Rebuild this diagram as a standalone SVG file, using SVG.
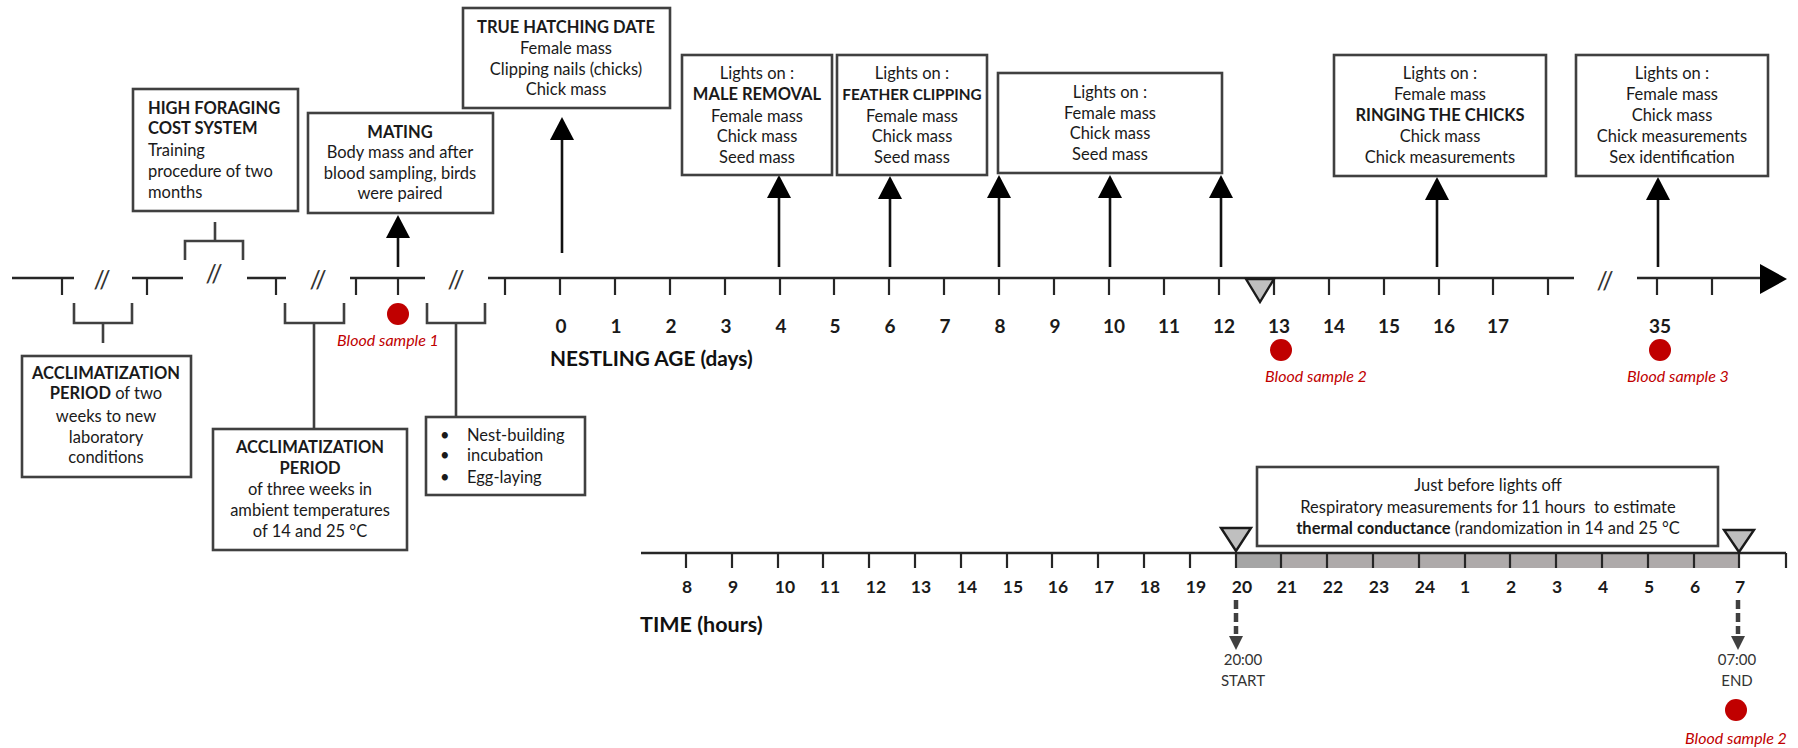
<svg xmlns="http://www.w3.org/2000/svg" width="1798" height="748" viewBox="0 0 1798 748">
<style>
text{font-family:Lato,"Liberation Sans",sans-serif;fill:#1a1a1a}
.box{fill:#fff;stroke:#404040;stroke-width:2.6}
.t{font-size:16.5px;text-anchor:middle}
.tl{font-size:16.5px}
.b{font-weight:bold}
.ax{stroke:#262626;stroke-width:2.6;fill:none}
.tk{stroke:#262626;stroke-width:2.2}
.num{font-size:19px;font-weight:bold;text-anchor:middle;fill:#111}
.hnum{font-size:17.5px;font-weight:bold;text-anchor:middle;fill:#111}
.ttl{font-size:20.8px;font-weight:bold;fill:#111}
.sl{font-size:25px;fill:#333;text-anchor:middle}
.brk{stroke:#404040;stroke-width:2.6;fill:none}
.stem{stroke:#111;stroke-width:2.6}
.head{fill:#000}
.tri{fill:#bfbfbf;stroke:#1a1a1a;stroke-width:2.4;stroke-linejoin:miter}
.dot{fill:#c00000}
.red{font-size:16px;font-style:italic;fill:#c00000;text-anchor:middle}
.dash{stroke:#404040;stroke-width:4.5;stroke-dasharray:9 4}
.dhead{fill:#404040}
.small{font-size:15px;fill:#333;text-anchor:middle}
</style>

<!-- upper timeline -->
<g id="upper-timeline">
  <path class="ax" d="M12 278H74 M132 278H183 M247 278H286 M350 278H425 M488 278H1574 M1637 278H1762"/>
  <path class="tk" d="M62 278V295 M147 278V295 M276 278V295 M356 278V295 M398 278V295
    M505 278V295 M560 278V295 M615 278V295 M670 278V295 M725 278V295 M780 278V295 M834 278V295 M889 278V295 M944 278V295 M999 278V295 M1054 278V295 M1109 278V295 M1164 278V295 M1219 278V295 M1274 278V295 M1329 278V295 M1384 278V295 M1439 278V295 M1493 278V295 M1548 278V295
    M1657 278V295 M1712 278V295"/>
  <polygon class="head" points="1760,264 1787,279 1760,294"/>
  <text class="sl" x="102" y="289">//</text>
  <text class="sl" x="214" y="283">//</text>
  <text class="sl" x="318" y="289">//</text>
  <text class="sl" x="456" y="289">//</text>
  <text class="sl" x="1605" y="290">//</text>
  <g class="num">
    <text x="561" y="333">0</text><text x="616" y="333">1</text><text x="671" y="333">2</text><text x="726" y="333">3</text><text x="781" y="333">4</text><text x="835" y="333">5</text><text x="890" y="333">6</text><text x="945" y="333">7</text><text x="1000" y="333">8</text><text x="1055" y="333">9</text><text x="1114" y="333">10</text><text x="1169" y="333">11</text><text x="1224" y="333">12</text><text x="1279" y="333">13</text><text x="1334" y="333">14</text><text x="1389" y="333">15</text><text x="1444" y="333">16</text><text x="1498" y="333">17</text><text x="1660" y="333">35</text>
  </g>
  <text class="ttl" x="550" y="366">NESTLING AGE (days)</text>
  <polygon class="tri" points="1246,279 1274,279 1260,302"/>
</g>

<!-- blood samples (upper) -->
<g id="blood1"><circle class="dot" cx="398" cy="314" r="11"/><text class="red" x="388" y="346">Blood sample 1</text></g>
<g id="blood2"><circle class="dot" cx="1281" cy="350" r="11"/><text class="red" x="1316" y="382">Blood sample 2</text></g>
<g id="blood3"><circle class="dot" cx="1660" cy="350" r="11"/><text class="red" x="1678" y="382">Blood sample 3</text></g>

<!-- connectors -->
<g id="connectors">
  <path class="brk" d="M185 260V241H243V260 M215 241V222"/>
  <path class="brk" d="M74 303V323H132V303 M103 323V343"/>
  <path class="brk" d="M285 303V323H344V303 M314 323V429"/>
  <path class="brk" d="M427 303V323H485V303 M456 323V417"/>
  <line class="stem" x1="398" y1="267" x2="398" y2="236"/><polygon class="head" points="398,215 386,238 410,238"/>
  <line class="stem" x1="562" y1="253" x2="562" y2="138"/><polygon class="head" points="562,117 550,140 574,140"/>
  <line class="stem" x1="779" y1="267" x2="779" y2="196"/><polygon class="head" points="779,175 767,198 791,198"/>
  <line class="stem" x1="890" y1="267" x2="890" y2="196"/><polygon class="head" points="890,176 878,199 902,199"/>
  <line class="stem" x1="999" y1="267" x2="999" y2="196"/><polygon class="head" points="999,175 987,198 1011,198"/>
  <line class="stem" x1="1110" y1="267" x2="1110" y2="196"/><polygon class="head" points="1110,175 1098,198 1122,198"/>
  <line class="stem" x1="1221" y1="267" x2="1221" y2="196"/><polygon class="head" points="1221,175 1209,198 1233,198"/>
  <line class="stem" x1="1437" y1="267" x2="1437" y2="198"/><polygon class="head" points="1437,177 1425,200 1449,200"/>
  <line class="stem" x1="1658" y1="267" x2="1658" y2="198"/><polygon class="head" points="1658,177 1646,200 1670,200"/>
  <line class="dash" x1="1236" y1="600" x2="1236" y2="634"/><polygon class="dhead" points="1229,636 1243,636 1236,650"/>
  <line class="dash" x1="1738" y1="600" x2="1738" y2="634"/><polygon class="dhead" points="1731,636 1745,636 1738,650"/>
</g>

<!-- nodes -->
<g id="high-foraging">
  <rect class="box" x="133" y="89" width="165" height="122"/>
  <text class="tl" x="148"><tspan class="b" x="148" y="114">HIGH FORAGING</tspan><tspan class="b" x="148" y="134">COST SYSTEM</tspan><tspan x="148" y="156">Training</tspan><tspan x="148" y="177">procedure of two</tspan><tspan x="148" y="198">months</tspan></text>
</g>
<g id="mating">
  <rect class="box" x="308" y="113" width="185" height="100"/>
  <text class="t"><tspan class="b" x="400" y="138">MATING</tspan><tspan x="400" y="158">Body mass and after</tspan><tspan x="400" y="179">blood sampling, birds</tspan><tspan x="400" y="199">were paired</tspan></text>
</g>
<g id="hatching">
  <rect class="box" x="463" y="8" width="207" height="100"/>
  <text class="t"><tspan class="b" x="566" y="33">TRUE HATCHING DATE</tspan><tspan x="566" y="54">Female mass</tspan><tspan x="566" y="75">Clipping nails (chicks)</tspan><tspan x="566" y="95">Chick mass</tspan></text>
</g>
<g id="male-removal">
  <rect class="box" x="682" y="55" width="150" height="120"/>
  <text class="t"><tspan x="757" y="79">Lights on :</tspan><tspan class="b" x="757" y="100">MALE REMOVAL</tspan><tspan x="757" y="122">Female mass</tspan><tspan x="757" y="142">Chick mass</tspan><tspan x="757" y="163">Seed mass</tspan></text>
</g>
<g id="feather-clipping">
  <rect class="box" x="837" y="55" width="150" height="120"/>
  <text class="t"><tspan x="912" y="79">Lights on :</tspan><tspan class="b" x="912" y="100" style="font-size:15.3px">FEATHER CLIPPING</tspan><tspan x="912" y="122">Female mass</tspan><tspan x="912" y="142">Chick mass</tspan><tspan x="912" y="163">Seed mass</tspan></text>
</g>
<g id="lights-on">
  <rect class="box" x="998" y="73" width="224" height="100"/>
  <text class="t"><tspan x="1110" y="98">Lights on :</tspan><tspan x="1110" y="119">Female mass</tspan><tspan x="1110" y="139">Chick mass</tspan><tspan x="1110" y="160">Seed mass</tspan></text>
</g>
<g id="ringing">
  <rect class="box" x="1334" y="55" width="212" height="121"/>
  <text class="t"><tspan x="1440" y="79">Lights on :</tspan><tspan x="1440" y="100">Female mass</tspan><tspan class="b" x="1440" y="121">RINGING THE CHICKS</tspan><tspan x="1440" y="142">Chick mass</tspan><tspan x="1440" y="163">Chick measurements</tspan></text>
</g>
<g id="sex-id">
  <rect class="box" x="1576" y="55" width="192" height="121"/>
  <text class="t"><tspan x="1672" y="79">Lights on :</tspan><tspan x="1672" y="100">Female mass</tspan><tspan x="1672" y="121">Chick mass</tspan><tspan x="1672" y="142">Chick measurements</tspan><tspan x="1672" y="163">Sex identification</tspan></text>
</g>
<g id="acclim-1">
  <rect class="box" x="22" y="356" width="169" height="121"/>
  <text class="t"><tspan class="b" x="106" y="379">ACCLIMATIZATION</tspan><tspan x="106" y="399"><tspan class="b">PERIOD</tspan> of two</tspan><tspan x="106" y="422">weeks to new</tspan><tspan x="106" y="443">laboratory</tspan><tspan x="106" y="463">conditions</tspan></text>
</g>
<g id="acclim-2">
  <rect class="box" x="213" y="429" width="194" height="121"/>
  <text class="t"><tspan class="b" x="310" y="453">ACCLIMATIZATION</tspan><tspan class="b" x="310" y="474">PERIOD</tspan><tspan x="310" y="495">of three weeks in</tspan><tspan x="310" y="516">ambient temperatures</tspan><tspan x="310" y="537">of 14 and 25 °C</tspan></text>
</g>
<g id="nest">
  <rect class="box" x="426" y="417" width="159" height="78"/>
  <text class="tl"><tspan x="440" y="441">•</tspan><tspan x="467" y="441">Nest-building</tspan><tspan x="440" y="461">•</tspan><tspan x="467" y="461">incubation</tspan><tspan x="440" y="483">•</tspan><tspan x="467" y="483">Egg-laying</tspan></text>
</g>

<!-- lower timeline -->
<g id="lower-timeline">
  <rect x="1236" y="553" width="46" height="15" fill="#a5a5a5"/>
  <rect x="1282" y="553" width="457" height="15" fill="#aeaaaa"/>
  <path class="ax" d="M641 553H1786"/>
  <path class="tk" d="M686 553V568 M732 553V568 M778 553V568 M823 553V568 M869 553V568 M915 553V568 M961 553V568 M1007 553V568 M1052 553V568 M1098 553V568 M1144 553V568 M1190 553V568 M1236 553V568 M1281 553V568 M1327 553V568 M1373 553V568 M1419 553V568 M1465 553V568 M1510 553V568 M1556 553V568 M1602 553V568 M1648 553V568 M1694 553V568 M1739 553V568 M1786 553V568"/>
  <g class="hnum">
    <text x="687" y="593">8</text><text x="733" y="593">9</text><text x="785" y="593">10</text><text x="830" y="593">11</text><text x="876" y="593">12</text><text x="921" y="593">13</text><text x="967" y="593">14</text><text x="1013" y="593">15</text><text x="1058" y="593">16</text><text x="1104" y="593">17</text><text x="1150" y="593">18</text><text x="1196" y="593">19</text><text x="1242" y="593">20</text><text x="1287" y="593">21</text><text x="1333" y="593">22</text><text x="1379" y="593">23</text><text x="1425" y="593">24</text><text x="1465" y="593">1</text><text x="1511" y="593">2</text><text x="1557" y="593">3</text><text x="1603" y="593">4</text><text x="1649" y="593">5</text><text x="1695" y="593">6</text><text x="1740" y="593">7</text>
  </g>
  <text class="ttl" x="640" y="632" style="font-size:21.5px">TIME (hours)</text>
  <polygon class="tri" points="1221,528 1251,528 1236,551"/>
  <polygon class="tri" points="1724,530 1754,530 1739,552"/>
  <text class="small"><tspan x="1243" y="665">20:00</tspan><tspan x="1243" y="686">START</tspan></text>
  <text class="small"><tspan x="1737" y="665">07:00</tspan><tspan x="1737" y="686">END</tspan></text>
</g>
<g id="resp-box">
  <rect class="box" x="1257" y="467" width="461" height="79"/>
  <text class="t"><tspan x="1488" y="491">Just before lights off</tspan><tspan x="1488" y="513" xml:space="preserve">Respiratory measurements for 11 hours  to estimate</tspan><tspan x="1488" y="534"><tspan class="b">thermal conductance</tspan> (randomization in 14 and 25 °C</tspan></text>
</g>
<g id="blood2b"><circle class="dot" cx="1736" cy="710" r="11"/><text class="red" x="1736" y="744">Blood sample 2</text></g>
</svg>
